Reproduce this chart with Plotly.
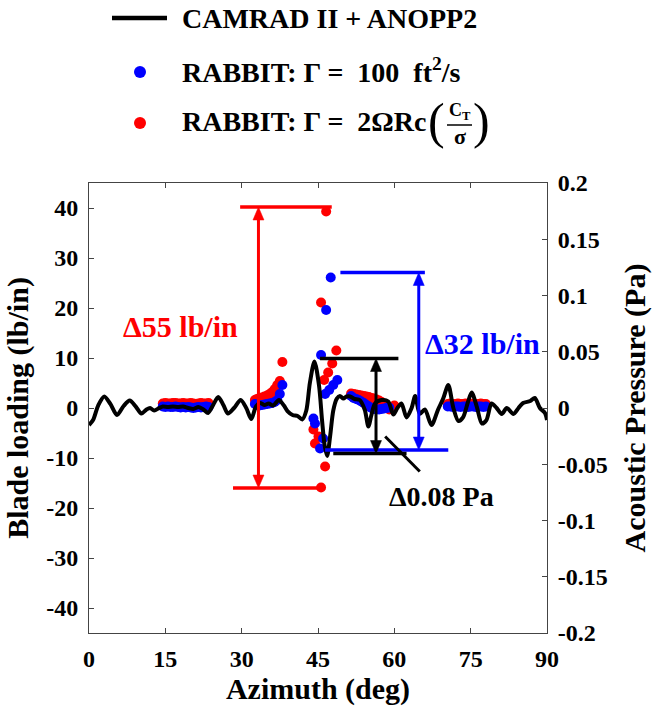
import plotly.graph_objects as go

# ---------------- data ----------------
# CAMRAD II + ANOPP2 acoustic pressure (Pa) vs azimuth (deg)
camrad_az = [0.0, 0.8, 1.8, 3.0, 4.2, 5.5, 6.8, 8.0, 9.2, 10.3, 11.3, 12.0, 12.8, 13.8,
             14.5, 15.5, 16.5, 17.5, 18.5, 19.5, 20.5, 21.5, 22.5, 23.4, 24.4, 25.4, 26.4,
             27.3, 28.5, 29.8, 30.9, 31.9, 32.8, 33.6, 34.5, 35.3, 36.2, 37.3, 38.3, 39.0,
             40.0, 41.0, 41.9, 42.7, 43.4, 44.3, 45.2, 45.8, 46.3, 46.8, 47.4, 48.0, 48.7,
             49.3, 50.0, 50.6, 51.3, 52.2, 53.2, 54.2, 54.9, 55.5, 56.2, 57.5, 58.8, 59.8,
             60.6, 61.4, 62.4, 63.4, 64.1, 65.0, 66.0, 67.3, 68.6, 69.6, 70.6, 71.6, 72.6,
             73.5, 74.5, 75.2, 76.2, 77.2, 78.1, 79.1, 80.1, 81.1, 82.1, 83.4, 84.4, 85.3,
             86.7, 87.6, 88.6, 89.6, 90.0]
camrad_p = [-0.0151, -0.0107, 0.0022, 0.0102, 0.0036, -0.0062, 0.0018, 0.0067, 0.0013, -0.0049,
            -0.0013, 0.0000, -0.0022, 0.0000, 0.0013, 0.0009, 0.0013, 0.0009, 0.0013, 0.0000,
            -0.0009, 0.0009, -0.0013, -0.0044, 0.0027, 0.0098, 0.0027, -0.0049, 0.0000, 0.0071,
            0.0000, -0.0098, 0.0013, 0.0044, 0.0027, 0.0040, 0.0022, 0.0071, 0.0022, -0.0027,
            -0.0062, -0.0071, -0.0102, -0.0022, 0.0222, 0.0413, 0.0200, -0.0111, -0.0333, -0.0427,
            -0.0244, -0.0022, 0.0084, 0.0107, 0.0084, 0.0102, 0.0102, 0.0080, 0.0071, -0.0018,
            -0.0164, -0.0062, 0.0040, 0.0071, 0.0058, -0.0058, 0.0000, 0.0040, -0.0084, 0.0000,
            0.0107, -0.0053, -0.0013, -0.0151, -0.0013, 0.0084, 0.0204, 0.0000, -0.0116, -0.0084,
            0.0058, 0.0138, 0.0013, -0.0138, -0.0107, 0.0040, 0.0000, -0.0053, 0.0000, -0.0053,
            0.0000, 0.0044, 0.0062, 0.0089, 0.0000, -0.0044, -0.0107]

# RABBIT, Gamma = 2*Omega*R*c*(CT/sigma)  (red) -- blade loading lb/in
red_az = [14.5, 15.0, 15.5, 16.0, 16.5, 17.0, 17.5, 18.0, 18.5, 19.0, 19.5, 20.0, 20.5, 21.0,
          21.5, 22.0, 22.5, 23.0, 23.5,
          32.6, 33.0, 33.5, 34.0, 34.5, 35.0, 35.5, 36.0, 36.5, 37.0, 37.5, 38.0,
          44.1, 44.4, 45.1, 45.6, 45.6, 46.2, 46.4, 46.6, 47.0, 47.8, 48.6,
          51.5, 52.0, 52.5, 53.0, 53.5, 54.0, 54.5, 55.0, 55.5, 56.0, 56.5, 57.0, 57.5,
          58.0, 58.5, 59.0, 59.5, 60.0,
          70.5, 71.0, 71.5, 72.0, 72.5, 73.0, 73.5, 74.0, 74.5, 75.0, 75.5, 76.0, 76.5,
          77.0, 77.5, 78.0]
red_load = [0.9, 1.0, 0.9, 0.9, 1.0, 1.0, 0.9, 0.9, 1.0, 0.9, 0.9, 1.0, 0.9, 0.8,
            0.9, 1.0, 0.9, 0.9, 1.0,
            1.6, 1.8, 2.0, 2.1, 2.3, 2.5, 2.8, 3.2, 3.8, 4.6, 5.4, 9.2,
            -4.3, -7.1, -5.7, 21.1, -15.9, 5.6, -11.7, 39.3, 7.1, 8.9, 11.5,
            2.9, 2.8, 2.7, 2.6, 2.5, 2.4, 2.3, 2.2, 2.0, 1.9, 1.7, 1.5, 1.2,
            0.8, 0.3, -0.3, 0.1, 0.5,
            0.8, 0.9, 0.8, 0.8, 0.9, 0.8, 0.8, 0.9, 0.8, 0.8, 0.9, 0.8, 0.8,
            0.9, 0.8, 0.8]

# RABBIT, Gamma = 100 ft^2/s (blue)
blue_az = [14.5, 15.0, 15.5, 16.0, 16.5, 17.0, 17.5, 18.0, 18.5, 19.0, 19.5, 20.0, 20.5, 21.0,
           21.5, 22.0, 22.5, 23.0, 23.5,
           32.6, 33.0, 33.5, 34.0, 34.5, 35.0, 35.5, 36.0, 36.5, 37.0, 37.5, 38.0,
           44.1, 44.4, 45.4, 45.6, 46.0, 46.4, 46.6, 47.2, 47.5, 48.0, 48.8,
           51.5, 52.0, 52.5, 53.0, 53.5, 54.0, 54.5, 55.0, 55.5, 56.0, 56.5, 57.0, 57.5,
           58.0, 58.5, 59.0,
           70.5, 71.0, 71.5, 72.0, 72.5, 73.0, 73.5, 74.0, 74.5, 75.0, 75.5, 76.0, 76.5,
           77.0, 77.5, 78.0]
blue_load = [0.3, 0.2, 0.3, 0.2, 0.2, 0.3, 0.2, 0.1, 0.2, 0.1, 0.2, 0.1, 0.0, 0.1,
             0.2, 0.1, 0.2, 0.3, 0.2,
             0.8, 0.6, 0.5, 0.6, 0.7, 0.8, 0.9, 1.0, 1.2, 1.6, 2.8, 4.6,
             -2.1, -3.1, -8.1, 10.6, -6.1, 2.8, 19.6, 3.6, 26.1, 4.6, 5.6,
             2.4, 2.0, 1.8, 1.6, 1.3, 1.0, 0.6, 0.3, 0.0, -0.2, -0.3, -0.3, -0.2,
             -0.1, 0.0, 0.1,
             0.3, 0.3, 0.2, 0.3, 0.3, 0.2, 0.3, 0.3, 0.2, 0.3, 0.3, 0.2, 0.3,
             0.3, 0.2, 0.3]

x_ticks = [0, 15, 30, 45, 60, 75, 90]
y_ticks = [-40, -30, -20, -10, 0, 10, 20, 30, 40]
y2_ticks = [-0.2, -0.15, -0.1, -0.05, 0, 0.05, 0.1, 0.15, 0.2]
y2_ticktext = ["-0.2", "-0.15", "-0.1", "-0.05", "0", "0.05", "0.1", "0.15", "0.2"]

legend_names = ["CAMRAD II + ANOPP2",
                "RABBIT: Γ =\u00a0 100\u00a0 ft<sup>2</sup>/s",
                "RABBIT: Γ =\u00a0 2ΩRc"]

# ---------------- style ----------------
W, H = 652, 715
PL, PR, PT, PB = 89, 547, 183, 633
X_RANGE = [0, 90]
Y_RANGE = [-45, 45]
Y2_RANGE = [-0.2, 0.2]
FONT = "'Liberation Serif', 'Times New Roman', Times, serif"
RED, BLUE, BLACK = "#FF0000", "#0000FF", "#000000"
AXC = "#444444"

DX = (X_RANGE[1] - X_RANGE[0]) / (PR - PL)     # data units per pixel (x)
DY = (Y_RANGE[1] - Y_RANGE[0]) / (PB - PT)     # data units per pixel (y)
DY2 = (Y2_RANGE[1] - Y2_RANGE[0]) / (PB - PT)  # data units per pixel (y2)


def pxx(x):
    return (x - PL) / (PR - PL)


def pxy(y):
    return (PB - y) / (PB - PT)


fig = go.Figure()
fig.add_trace(go.Scatter(x=red_az, y=red_load, mode="markers", name="RABBIT: Γ = 2ΩRc(CT/σ)",
                         marker=dict(color=RED, size=10, line=dict(width=0)), showlegend=False))
fig.add_trace(go.Scatter(x=blue_az, y=blue_load, mode="markers", name="RABBIT: Γ = 100 ft²/s",
                         marker=dict(color=BLUE, size=10, line=dict(width=0)), showlegend=False))
fig.add_trace(go.Scatter(x=camrad_az, y=camrad_p, mode="lines", name=legend_names[0], yaxis="y2",
                         line=dict(color=BLACK, width=4, shape="spline", smoothing=0.8),
                         showlegend=False))

shapes = []
annos = []


def hline(x0, x1, y, color, yref="y"):
    shapes.append(dict(type="line", xref="x", yref=yref, x0=x0, x1=x1, y0=y, y1=y,
                       line=dict(color=color, width=3.5)))


def darrow(x, y0, y1, color, yref="y"):
    """vertical double-headed arrow from y0 (bottom) to y1 (top)"""
    dy = DY2 if yref == "y2" else DY
    hw, hl = 5.5 * DX, 13 * dy   # head half-width / length in data units
    shapes.append(dict(type="line", xref="x", yref=yref, x0=x, x1=x, y0=y0 + hl * 0.5,
                       y1=y1 - hl * 0.5, line=dict(color=color, width=3)))
    for tip, base in [(y1, y1 - hl), (y0, y0 + hl)]:
        path = "M {a},{b} L {c},{d} L {e},{d} Z".format(a=x, b=tip, c=x - hw, d=base, e=x + hw)
        shapes.append(dict(type="path", xref="x", yref=yref, path=path, fillcolor=color,
                           line=dict(color=color, width=0.5)))


# red range
hline(29.7, 47.7, 40.2, RED)
hline(28.3, 45.8, -16.0, RED)
darrow(33.3, -16.0, 40.2, RED)
annos.append(dict(x=17.9, y=16.3, xref="x", yref="y", text="<b>Δ55 lb/in</b>", showarrow=False,
                  font=dict(family=FONT, size=30, color=RED)))
# blue range
hline(49.4, 66.0, 27.1, BLUE)
hline(46.4, 70.6, -8.4, BLUE)
darrow(64.8, -8.4, 27.1, BLUE)
annos.append(dict(x=65.6, y=13.0, xref="x", yref="y", text="<b>Δ32 lb/in</b>", showarrow=False,
                  xanchor="left", font=dict(family=FONT, size=30, color=BLUE)))
# black range (Pa)
hline(45.4, 60.8, 0.044, BLACK, "y2")
hline(48.0, 62.4, -0.0405, BLACK, "y2")
darrow(56.4, -0.0405, 0.044, BLACK, "y2")
shapes.append(dict(type="line", xref="x", yref="y", x0=58.2, y0=-5.7, x1=65.0, y1=-12.7,
                   line=dict(color=BLACK, width=3)))
annos.append(dict(x=69.2, y=-17.6, xref="x", yref="y", text="<b>Δ0.08 Pa</b>", showarrow=False,
                  font=dict(family=FONT, size=28, color=BLACK)))

# manual legend
shapes.append(dict(type="line", xref="paper", yref="paper", x0=pxx(112), x1=pxx(167),
                   y0=pxy(18), y1=pxy(18), line=dict(color=BLACK, width=4.5)))
for col, yy in [(BLUE, 72), (RED, 123)]:
    shapes.append(dict(type="circle", xref="paper", yref="paper", xsizemode="pixel",
                       ysizemode="pixel", xanchor=pxx(140), yanchor=pxy(yy), x0=-6, x1=6,
                       y0=-6, y1=6, fillcolor=col, line=dict(width=0)))
for name, yy in zip(legend_names, [18, 70, 122]):
    annos.append(dict(x=pxx(180), y=pxy(yy), xref="paper", yref="paper", text="<b>" + name + "</b>",
                      showarrow=False, xanchor="left", yanchor="middle",
                      font=dict(family=FONT, size=28, color=BLACK)))
# fraction (C_T / sigma) in parentheses
annos.append(dict(x=pxx(436), y=pxy(121), xref="paper", yref="paper", text="(", showarrow=False,
                  xanchor="center", yanchor="middle", font=dict(family=FONT, size=50, color=BLACK)))
annos.append(dict(x=pxx(481), y=pxy(121), xref="paper", yref="paper", text=")", showarrow=False,
                  xanchor="center", yanchor="middle", font=dict(family=FONT, size=50, color=BLACK)))
annos.append(dict(x=pxx(460), y=pxy(111), xref="paper", yref="paper", text="<b>C<sub>T</sub></b>",
                  showarrow=False, xanchor="center", yanchor="middle",
                  font=dict(family=FONT, size=18, color=BLACK)))
annos.append(dict(x=pxx(460), y=pxy(136), xref="paper", yref="paper", text="<b>σ</b>",
                  showarrow=False, xanchor="center", yanchor="middle",
                  font=dict(family=FONT, size=22, color=BLACK)))
shapes.append(dict(type="line", xref="paper", yref="paper", x0=pxx(447), x1=pxx(472),
                   y0=pxy(125), y1=pxy(125), line=dict(color=BLACK, width=1.5)))

tickfont = dict(family=FONT, size=24, color=BLACK, weight="bold")
titlefont = dict(family=FONT, size=30, color=BLACK, weight="bold")

fig.update_layout(
    width=W, height=H,
    margin=dict(l=PL, r=W - PR, t=PT, b=H - PB, pad=0),
    paper_bgcolor="white", plot_bgcolor="white",
    font=dict(family=FONT),
    shapes=shapes, annotations=annos,
    xaxis=dict(range=X_RANGE, tickvals=x_ticks, ticktext=[str(v) for v in x_ticks],
               ticks="inside", ticklen=5, tickcolor=AXC, showline=True, linecolor=AXC,
               linewidth=1, mirror="ticks", showgrid=False, zeroline=False, tickfont=tickfont,
               ticklabelstandoff=4,
               title=dict(text="Azimuth (deg)", font=titlefont, standoff=4), automargin=False),
    yaxis=dict(range=Y_RANGE, tickvals=y_ticks, ticktext=[str(v) for v in y_ticks],
               ticks="inside", ticklen=5, tickcolor=AXC, showline=True, linecolor=AXC,
               linewidth=1, showgrid=False, zeroline=False, tickfont=tickfont,
               ticklabelstandoff=5,
               title=dict(text="Blade loading (lb/in)", font=titlefont, standoff=8),
               automargin=False),
    yaxis2=dict(range=Y2_RANGE, tickvals=y2_ticks, ticktext=y2_ticktext, overlaying="y",
                side="right", ticks="inside", ticklen=5, tickcolor=AXC, showline=True,
                linecolor=AXC, linewidth=1, showgrid=False, zeroline=False, tickfont=tickfont,
                ticklabelstandoff=5,
                title=dict(text="Acoustic Pressure (Pa)", font=titlefont, standoff=22),
                automargin=False),
)

fig.write_html("out.html")
